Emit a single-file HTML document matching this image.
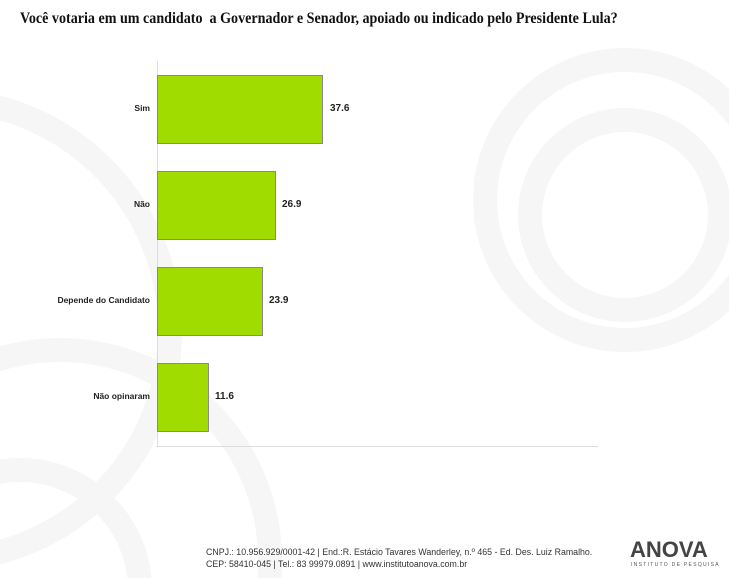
<!DOCTYPE html>
<html><head><meta charset="utf-8"><style>
html,body{margin:0;padding:0;background:#fff;overflow:hidden}
body{width:729px;height:578px;position:relative;overflow:hidden;font-family:"Liberation Sans",sans-serif}
.t{position:absolute;left:20px;top:10px;font-family:"Liberation Serif",serif;font-weight:bold;font-size:16px;color:#111;white-space:nowrap;transform:scaleX(0.88);transform-origin:0 0}
.bar{position:absolute;background:#a0dc00;border:1px solid #8a8a8a;box-sizing:border-box}
.lab{position:absolute;font-size:8.5px;font-weight:bold;color:#222;text-align:right;width:140px;left:10px}
.val{position:absolute;font-size:10px;font-weight:bold;color:#222}
.f{position:absolute;left:206px;font-size:8.8px;color:#333;white-space:nowrap}
</style></head><body>
<svg width="729" height="578" style="position:absolute;left:0;top:0">
<g fill="none" stroke="#f6f6f6" stroke-width="24">
<circle cx="625" cy="200" r="140"/>
<circle cx="625" cy="215" r="95"/>
<circle cx="-60" cy="330" r="230"/>
<circle cx="60" cy="560" r="210"/>
<circle cx="20" cy="590" r="120"/>
</g>
<line x1="157.5" y1="61" x2="157.5" y2="446" stroke="#ddd" stroke-width="1"/>
<line x1="157" y1="446.5" x2="598" y2="446.5" stroke="#ddd" stroke-width="1"/>
</svg>
<div class="t">Você votaria em um candidato &nbsp;a Governador e Senador, apoiado ou indicado pelo Presidente Lula?</div>
<div class="bar" style="left:157px;top:75px;width:166px;height:69px"></div>
<div class="bar" style="left:157px;top:171px;width:119px;height:69px"></div>
<div class="bar" style="left:157px;top:267px;width:106px;height:69px"></div>
<div class="bar" style="left:157px;top:363px;width:52px;height:69px"></div>
<div class="lab" style="top:103px">Sim</div>
<div class="lab" style="top:199px">Não</div>
<div class="lab" style="top:295px">Depende do Candidato</div>
<div class="lab" style="top:391px">Não opinaram</div>
<div class="val" style="left:330px;top:103px">37.6</div>
<div class="val" style="left:282px;top:199px">26.9</div>
<div class="val" style="left:269px;top:295px">23.9</div>
<div class="val" style="left:215px;top:391px">11.6</div>
<div class="f" style="top:547px">CNPJ.: 10.956.929/0001-42 | End.:R. Estácio Tavares Wanderley, n.º 465 - Ed. Des. Luiz Ramalho.</div>
<div class="f" style="top:559px">CEP: 58410-045 | Tel.: 83 99979.0891 | www.institutoanova.com.br</div>
<div style="position:absolute;left:630px;top:538px;font-size:22px;font-weight:bold;color:#444;line-height:24px">ANOVA</div>
<div style="position:absolute;left:631px;top:562px;font-size:5px;color:#555;letter-spacing:1.3px;line-height:6px">INSTITUTO DE PESQUISA</div>
</body></html>
